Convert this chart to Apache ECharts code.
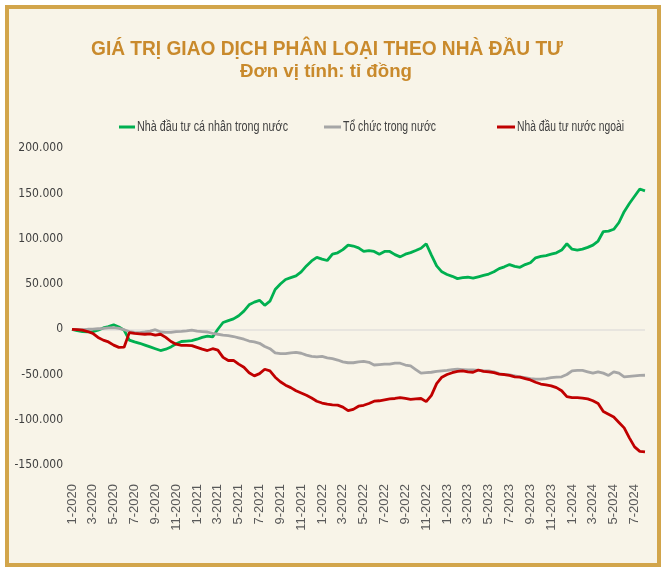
<!DOCTYPE html>
<html>
<head>
<meta charset="utf-8">
<script src="https://cdn.jsdelivr.net/npm/echarts@6/dist/echarts.min.js"></script>
<style>
html,body{margin:0;padding:0;background:#ffffff;}
#chart{width:663px;height:572px;}
</style>
</head>
<body>
<div id="chart"></div>
<script>
const titleText = 'GIÁ TRỊ GIAO DỊCH PHÂN LOẠI THEO NHÀ ĐẦU TƯ';
const subtitleText = 'Đơn vị tính: tỉ đồng';
const seriesNames = ['Nhà đầu tư cá nhân trong nước', 'Tổ chức trong nước', 'Nhà đầu tư nước ngoài'];

const categories = [
  '2020-01-01','2020-01-16','2020-02-01','2020-02-16','2020-03-01','2020-03-16','2020-04-01','2020-04-16','2020-05-01','2020-05-16','2020-06-01','2020-06-16',
  '2020-07-01','2020-07-16','2020-08-01','2020-08-16','2020-09-01','2020-09-16','2020-10-01','2020-10-16','2020-11-01','2020-11-16','2020-12-01','2020-12-16',
  '2021-01-01','2021-01-16','2021-02-01','2021-02-16','2021-03-01','2021-03-16','2021-04-01','2021-04-16','2021-05-01','2021-05-16','2021-06-01','2021-06-16',
  '2021-07-01','2021-07-16','2021-08-01','2021-08-16','2021-09-01','2021-09-16','2021-10-01','2021-10-16','2021-11-01','2021-11-16','2021-12-01','2021-12-16',
  '2022-01-01','2022-01-16','2022-02-01','2022-02-16','2022-03-01','2022-03-16','2022-04-01','2022-04-16','2022-05-01','2022-05-16','2022-06-01','2022-06-16',
  '2022-07-01','2022-07-16','2022-08-01','2022-08-16','2022-09-01','2022-09-16','2022-10-01','2022-10-16','2022-11-01','2022-11-16','2022-12-01','2022-12-16',
  '2023-01-01','2023-01-16','2023-02-01','2023-02-16','2023-03-01','2023-03-16','2023-04-01','2023-04-16','2023-05-01','2023-05-16','2023-06-01','2023-06-16',
  '2023-07-01','2023-07-16','2023-08-01','2023-08-16','2023-09-01','2023-09-16','2023-10-01','2023-10-16','2023-11-01','2023-11-16','2023-12-01','2023-12-16',
  '2024-01-01','2024-01-16','2024-02-01','2024-02-16','2024-03-01','2024-03-16','2024-04-01','2024-04-16','2024-05-01','2024-05-16','2024-06-01','2024-06-16',
  '2024-07-01','2024-07-16','2024-08-01'
];

const individualDomestic = [
  0,-1500,-2500,-2800,-2500,-1000,1500,3000,5000,2500,-1000,-12000,
  -14000,-15500,-17500,-19500,-21500,-23500,-22000,-19500,-16000,-13500,-13000,-12500,
  -11000,-9000,-7500,-8500,0,7500,9500,11500,15000,20000,27000,30000,
  32000,26500,31000,44000,50000,55000,57000,59000,63500,70000,75500,79500,
  77500,76000,83000,84500,88000,93000,92000,90000,86000,87000,86000,83000,
  86000,86000,82500,80000,83000,84700,87000,89500,94500,82000,70000,63500,
  60500,58500,56000,57000,57500,56500,58000,59500,61000,63500,67000,69000,
  71500,69500,68500,71500,73500,79000,80500,81500,83000,84500,87500,94500,
  88500,87500,88500,90500,93000,97500,108000,108500,110500,118000,130000,139000,
  147000,155000,153000
];

const institutionDomestic = [
  0,-500,-500,0,200,600,1000,1500,1800,1000,-500,-2500,
  -3500,-3700,-3000,-2000,-500,-3000,-3500,-3500,-2500,-2300,-1800,-1000,
  -2000,-2500,-3000,-4500,-5500,-6500,-7000,-8000,-9500,-11000,-13000,-14000,
  -15500,-19000,-21500,-26000,-27000,-27000,-26000,-25500,-26500,-28500,-30000,-30500,
  -30000,-31500,-32500,-34000,-36000,-37000,-37000,-36000,-35500,-36500,-39500,-39000,
  -38500,-38500,-37500,-37500,-39500,-40500,-44500,-48500,-48000,-47500,-46500,-46000,
  -45500,-44500,-44000,-44500,-45000,-45000,-45500,-46000,-46000,-47000,-49000,-50000,
  -50500,-51500,-52500,-53500,-54500,-55000,-55000,-54500,-53500,-53000,-52500,-50000,
  -46000,-45500,-45500,-47000,-48500,-47000,-48500,-51000,-47000,-48500,-52500,-52000,
  -51500,-51000,-50800
];

const foreignInvestors = [
  0,-500,-1000,-2500,-4500,-9000,-12000,-14000,-17500,-20000,-19800,-3700,
  -4500,-5000,-5500,-5000,-6500,-5500,-9000,-13500,-16500,-17700,-17700,-18000,
  -20000,-22000,-23500,-21500,-23000,-31000,-34500,-34300,-38500,-42000,-48000,-51500,
  -49000,-44200,-46000,-53000,-58000,-61800,-64500,-68000,-70500,-73000,-76000,-79500,
  -81500,-82800,-83500,-83900,-86000,-90000,-88500,-85000,-84000,-82000,-79500,-79000,
  -78000,-77000,-76500,-75500,-76500,-77500,-77000,-76500,-80000,-73000,-60000,-53000,
  -50000,-48000,-46500,-46000,-47000,-47500,-45000,-46500,-47000,-48000,-49500,-50000,
  -51000,-52500,-53000,-54500,-56000,-58500,-60500,-61500,-62500,-64500,-68000,-74500,
  -75500,-75500,-76000,-77000,-79000,-82000,-91000,-94000,-97000,-103000,-109000,-120000,
  -130000,-135000,-135500
];

const seriesColors = ['#00B050', '#A6A6A6', '#C00000'];

const measureCtx = document.createElement('canvas').getContext('2d');
function textWidth(font, txt) { measureCtx.font = font; return measureCtx.measureText(txt).width; }
function fitScale(font, txt, target) { return target / textWidth(font, txt); }

const titleFont = 'bold 20px "Liberation Sans"';
const subFont = 'bold 19px "Liberation Sans"';
const legendFont = '14px "Liberation Sans"';
const titleScale = fitScale(titleFont, titleText, 472);
const subScale = fitScale(subFont, subtitleText, 172);

// legend layout: [line start, line end, text start, text width]
const legendLayout = [[119, 135, 137, 151], [324, 341, 343, 93], [497, 515, 517, 107]];

function fmtY(v) {
  if (v === 0) return '0';
  const s = String(Math.abs(v)).replace(/\B(?=(\d{3})+(?!\d))/g, '.');
  return (v < 0 ? '-' : '') + s;
}

const chart = echarts.init(document.getElementById('chart'), null, {renderer: 'canvas'});

const graphics = [{
  type: 'rect',
  z: -10,
  shape: {x: 7, y: 7, width: 652, height: 558},
  style: {fill: '#F8F4E8', stroke: '#D2A54B', lineWidth: 4}
}, {
  type: 'text',
  x: 327, y: 49, scaleX: titleScale,
  style: {text: titleText, font: titleFont, fill: '#C98A2C', align: 'center', verticalAlign: 'middle'}
}, {
  type: 'text',
  x: 326, y: 72, scaleX: subScale,
  style: {text: subtitleText, font: subFont, fill: '#C98A2C', align: 'center', verticalAlign: 'middle'}
}];

seriesNames.forEach(function (name, i) {
  const L = legendLayout[i];
  graphics.push({
    type: 'rect',
    shape: {x: L[0], y: 125.5, width: L[1] - L[0], height: 3},
    style: {fill: seriesColors[i]}
  });
  graphics.push({
    type: 'text',
    x: L[2], y: 127, scaleX: fitScale(legendFont, name, L[3]),
    style: {text: name, font: legendFont, fill: '#404040', align: 'left', verticalAlign: 'middle'}
  });
});

const option = {
  animation: false,
  backgroundColor: 'transparent',
  graphic: graphics,
  grid: {left: 72, right: 18, top: 148.3, bottom: 107, containLabel: false},
  xAxis: {
    type: 'category',
    data: categories,
    boundaryGap: false,
    axisLine: {show: false},
    axisTick: {show: false},
    splitLine: {show: false},
    axisLabel: {
      rotate: 90,
      margin: 19,
      fontFamily: 'Liberation Sans',
      fontSize: 13,
      color: '#595959',
      interval: function (index, value) {
        const p = value.split('-');
        return p[2] === '01' && (+p[1]) % 2 === 1;
      },
      formatter: function (value) {
        const p = value.split('-');
        return (+p[1]) + '-' + p[0];
      }
    }
  },
  yAxis: {
    type: 'value',
    min: -150000,
    max: 200000,
    interval: 50000,
    axisLine: {show: false},
    axisTick: {show: false},
    splitLine: {
      show: true,
      lineStyle: {
        width: 1.5,
        color: ['rgba(0,0,0,0)', 'rgba(0,0,0,0)', 'rgba(0,0,0,0)', '#E3E1DC', 'rgba(0,0,0,0)', 'rgba(0,0,0,0)', 'rgba(0,0,0,0)', 'rgba(0,0,0,0)']
      }
    },
    axisLabel: {
      margin: 9,
      fontFamily: '"DejaVu Sans Condensed", "Liberation Sans"',
      fontSize: 12,
      color: '#404040',
      formatter: fmtY
    }
  },
  series: [
    {name: seriesNames[0], type: 'line', data: individualDomestic, color: seriesColors[0], showSymbol: false, lineStyle: {width: 2.8, color: seriesColors[0]}},
    {name: seriesNames[1], type: 'line', data: institutionDomestic, color: seriesColors[1], showSymbol: false, lineStyle: {width: 2.8, color: seriesColors[1]}},
    {name: seriesNames[2], type: 'line', data: foreignInvestors, color: seriesColors[2], showSymbol: false, lineStyle: {width: 2.8, color: seriesColors[2]}}
  ]
};

chart.setOption(option);
</script>
</body>
</html>
